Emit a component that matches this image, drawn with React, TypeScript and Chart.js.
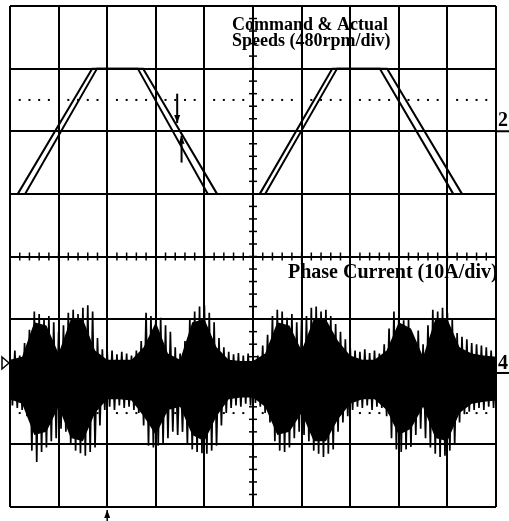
import React, { useEffect, useRef } from "react";
import { Chart, registerables } from "chart.js";

Chart.register(...registerables);

// Screen: 10 horizontal x 8 vertical divisions
const X_DIVS = 10;
const Y_DIVS = 8;

// Command and actual speed traces (time in div, level in div)
const commandTime = [0, 0.16, 1.69, 2.63, 4.07, 5.14, 6.63, 7.61, 9.12, 10];
const commandLevel = [5, 5, 7, 7, 5, 5, 7, 7, 5, 5];
const actualTime = [0, 0.31, 1.79, 2.74, 4.26, 5.25, 6.73, 7.76, 9.3, 10];
const actualLevel = [5, 5, 7, 7, 5, 5, 7, 7, 5, 5];

// Phase current, peak-detect samples every 0.1 div
const SAMPLE_STEP = 0.1;
const currentPeakHigh = [
  2.45, 2.5, 2.42, 2.62, 2.83, 3.12, 3.08, 3.0, 3.05, 2.95,
  2.8, 2.9, 3.1, 3.15, 3.08, 3.18, 3.22, 3.12, 2.7, 2.52,
  2.48, 2.5, 2.44, 2.48, 2.45, 2.42, 2.5, 2.65, 3.1, 3.05,
  2.98, 3.02, 2.9, 2.8, 2.55, 2.45, 2.65, 3.0, 3.12, 3.2,
  3.22, 3.1, 2.95, 2.7, 2.55, 2.48, 2.44, 2.46, 2.42, 2.45,
  2.4, 2.42, 2.58, 2.75, 3.05, 3.15, 3.12, 3.02, 3.08, 2.95,
  3.0, 3.05, 3.18, 3.2, 3.12, 3.15, 3.05, 2.92, 2.8, 2.68,
  2.55, 2.5, 2.48, 2.52, 2.46, 2.5, 2.45, 2.6, 2.85, 3.12,
  3.05, 2.98, 3.0, 2.7, 2.82, 2.6, 2.9, 3.15, 3.12, 3.18,
  3.1, 3.0, 2.78, 2.72, 2.68, 2.62, 2.6, 2.58, 2.55, 2.5,
  2.48,
];
const currentPeakLow = [
  1.62, 1.58, 1.55, 1.45, 0.9, 0.72, 0.88, 0.95, 1.05, 1.1,
  1.25, 1.2, 1.0, 0.9, 0.86, 0.82, 0.88, 0.95, 1.3, 1.55,
  1.6, 1.55, 1.62, 1.58, 1.6, 1.55, 1.5, 1.3, 0.98, 0.95,
  0.98, 1.02, 1.1, 1.2, 1.15, 1.2, 1.0, 0.92, 0.88, 0.86,
  0.85, 0.9, 0.98, 1.3, 1.5, 1.58, 1.62, 1.6, 1.65, 1.62,
  1.66, 1.6, 1.5, 1.35, 1.05, 0.9, 0.88, 0.95, 1.1, 1.2,
  1.15, 1.05, 0.9, 0.85, 0.8, 0.85, 0.92, 1.2, 1.35, 1.45,
  1.55, 1.6, 1.58, 1.62, 1.55, 1.6, 1.58, 1.45, 1.1, 0.92,
  0.88, 0.92, 0.96, 1.15, 1.25, 1.1, 0.95, 0.85, 0.8, 0.82,
  0.9, 1.0, 1.35, 1.48, 1.52, 1.55, 1.58, 1.55, 1.6, 1.58,
  1.62,
];

// Dense core of the current trace, every 0.25 div
const CORE_STEP = 0.25;
const currentCoreHigh = [
  2.35, 2.4, 2.95, 2.9, 2.45, 3.0, 3.0, 2.5, 2.35, 2.35,
  2.35, 2.55, 2.95, 2.45, 2.35, 2.95, 3.0, 2.55, 2.35, 2.33,
  2.33, 2.45, 2.95, 2.9, 2.5, 3.0, 3.0, 2.65, 2.42, 2.35,
  2.35, 2.5, 2.95, 2.85, 2.4, 3.0, 3.0, 2.55, 2.45, 2.42,
  2.4,
];
const currentCoreLow = [
  1.72, 1.65, 1.15, 1.2, 1.6, 1.1, 1.05, 1.5, 1.72, 1.72,
  1.7, 1.45, 1.15, 1.55, 1.6, 1.15, 1.05, 1.45, 1.72, 1.75,
  1.75, 1.6, 1.15, 1.2, 1.5, 1.05, 1.05, 1.4, 1.65, 1.72,
  1.72, 1.55, 1.15, 1.25, 1.6, 1.1, 1.05, 1.5, 1.65, 1.68,
  1.7,
];

// Dotted reference levels and channel markers (div)
const dottedLevels = [6.5, 1.5];
const speedMarkerLevel = 6;
const currentMarkerLevel = 2.3;
const triggerTime = 2;

const SERIF = '"Liberation Serif", "Times New Roman", serif';

function pairs(xs: number[], ys: number[]) {
  return xs.map((x, i) => ({ x, y: ys[i] }));
}

function arrow(ctx: CanvasRenderingContext2D, x: number, y0: number, y1: number) {
  const dir = y1 > y0 ? 1 : -1;
  ctx.beginPath();
  ctx.moveTo(x, y0);
  ctx.lineTo(x, y1);
  ctx.stroke();
  ctx.beginPath();
  ctx.moveTo(x, y1);
  ctx.lineTo(x - 3, y1 - dir * 8);
  ctx.lineTo(x + 3, y1 - dir * 8);
  ctx.closePath();
  ctx.fill();
}

const scopePlugin = {
  id: "scopeScreen",
  beforeDatasetsDraw(chart: any) {
    const { ctx, scales, chartArea } = chart;
    const xs = scales.x;
    const ys = scales.y;
    ctx.save();
    ctx.strokeStyle = "#000";
    ctx.fillStyle = "#000";
    ctx.lineWidth = 2;
    // major graticule
    for (let i = 0; i <= X_DIVS; i++) {
      const px = Math.round(xs.getPixelForValue(i));
      ctx.beginPath();
      ctx.moveTo(px, chartArea.top);
      ctx.lineTo(px, chartArea.bottom);
      ctx.stroke();
    }
    for (let j = 0; j <= Y_DIVS; j++) {
      const py = Math.round(ys.getPixelForValue(j));
      ctx.beginPath();
      ctx.moveTo(chartArea.left, py);
      ctx.lineTo(chartArea.right, py);
      ctx.stroke();
    }
    // minor ticks on the centre axes
    ctx.lineWidth = 1.5;
    const cx = xs.getPixelForValue(X_DIVS / 2);
    const cy = ys.getPixelForValue(Y_DIVS / 2);
    for (let k = 1; k < X_DIVS * 5; k++) {
      const px = xs.getPixelForValue(k / 5);
      ctx.beginPath();
      ctx.moveTo(px, cy - 4);
      ctx.lineTo(px, cy + 4);
      ctx.stroke();
    }
    for (let k = 1; k < Y_DIVS * 5; k++) {
      const py = ys.getPixelForValue(k / 5);
      ctx.beginPath();
      ctx.moveTo(cx - 4, py);
      ctx.lineTo(cx + 4, py);
      ctx.stroke();
    }
    // dotted levels
    dottedLevels.forEach((lv) => {
      const py = ys.getPixelForValue(lv);
      for (let k = 1; k < X_DIVS * 5; k++) {
        if (k % 5 === 0) continue;
        const px = xs.getPixelForValue(k / 5);
        ctx.fillRect(px - 1, py - 1, 2, 2);
      }
    });
    ctx.restore();
  },
  afterDatasetsDraw(chart: any) {
    const { ctx, scales, chartArea } = chart;
    const xs = scales.x;
    const ys = scales.y;
    ctx.save();
    ctx.fillStyle = "#000";
    ctx.strokeStyle = "#000";

    // titles
    ctx.font = `bold 18px ${SERIF}`;
    ctx.textBaseline = "alphabetic";
    ctx.textAlign = "left";
    ctx.fillText("Command & Actual", 232, 30);
    ctx.fillText("Speeds (480rpm/div)", 232, 46);
    ctx.font = `bold 20px ${SERIF}`;
    ctx.fillText("Phase Current (10A/div)", 288, 278);

    // channel 2 marker
    ctx.lineWidth = 2;
    const m2 = ys.getPixelForValue(speedMarkerLevel);
    ctx.beginPath();
    ctx.moveTo(chartArea.right, m2);
    ctx.lineTo(509, m2);
    ctx.stroke();
    ctx.font = `bold 20px ${SERIF}`;
    ctx.fillText("2", 498, m2 - 5);

    // channel 4 marker
    const m4 = ys.getPixelForValue(currentMarkerLevel);
    ctx.fillText("4", 498, m4 + 6);
    ctx.beginPath();
    ctx.moveTo(chartArea.right + 1, m4 + 10);
    ctx.lineTo(509, m4 + 10);
    ctx.stroke();

    // left ground triangle
    ctx.lineWidth = 1.5;
    ctx.fillStyle = "#fff";
    ctx.beginPath();
    ctx.moveTo(2, m4 - 6);
    ctx.lineTo(9, m4);
    ctx.lineTo(2, m4 + 6);
    ctx.closePath();
    ctx.fill();
    ctx.stroke();
    ctx.fillStyle = "#000";

    // trigger arrow below the screen
    ctx.lineWidth = 1.5;
    const tx = xs.getPixelForValue(triggerTime);
    arrow(ctx, tx, 521, chartArea.bottom + 3);

    // tracking-error arrows on the speed trace
    ctx.lineWidth = 2;
    arrow(ctx, xs.getPixelForValue(3.44), ys.getPixelForValue(6.6), ys.getPixelForValue(6.13));
    arrow(ctx, xs.getPixelForValue(3.53), ys.getPixelForValue(5.5), ys.getPixelForValue(5.93));

    ctx.restore();
  },
};

export default function App() {
  const ref = useRef<HTMLCanvasElement>(null);

  useEffect(() => {
    document.body.style.margin = "0";
    const canvas = ref.current;
    if (!canvas) return;

    // interleave peak highs and lows into one scope trace
    const zigzag: { x: number; y: number }[] = [];
    currentPeakHigh.forEach((hi, i) => {
      zigzag.push({ x: i * SAMPLE_STEP, y: hi });
      zigzag.push({ x: i * SAMPLE_STEP + SAMPLE_STEP / 2, y: currentPeakLow[i] });
    });
    const coreX = currentCoreHigh.map((_, i) => i * CORE_STEP);

    const chart = new Chart(canvas, {
      type: "line",
      data: {
        datasets: [
          {
            data: pairs(coreX, currentCoreLow),
            borderWidth: 0,
            borderColor: "#000",
            fill: false,
          },
          {
            data: pairs(coreX, currentCoreHigh),
            borderWidth: 0,
            borderColor: "#000",
            backgroundColor: "#000",
            fill: "-1",
          },
          {
            data: zigzag,
            borderColor: "#000",
            borderWidth: 1.7,
            fill: false,
          },
          {
            data: pairs(commandTime, commandLevel),
            borderColor: "#000",
            borderWidth: 2,
            fill: false,
          },
          {
            data: pairs(actualTime, actualLevel),
            borderColor: "#000",
            borderWidth: 2,
            fill: false,
          },
        ],
      },
      options: {
        responsive: false,
        animation: false,
        devicePixelRatio: 1,
        layout: { padding: { left: 10, right: 13, top: 6, bottom: 14 } },
        elements: { point: { radius: 0 }, line: { tension: 0 } },
        scales: {
          x: { type: "linear", min: 0, max: X_DIVS, display: false },
          y: { type: "linear", min: 0, max: Y_DIVS, display: false },
        },
        plugins: { legend: { display: false }, tooltip: { enabled: false } },
      },
      plugins: [scopePlugin],
    });
    return () => chart.destroy();
  }, []);

  return (
    <canvas
      ref={ref}
      width={509}
      height={521}
      style={{ display: "block", width: 509, height: 521, background: "#fff" }}
    />
  );
}
